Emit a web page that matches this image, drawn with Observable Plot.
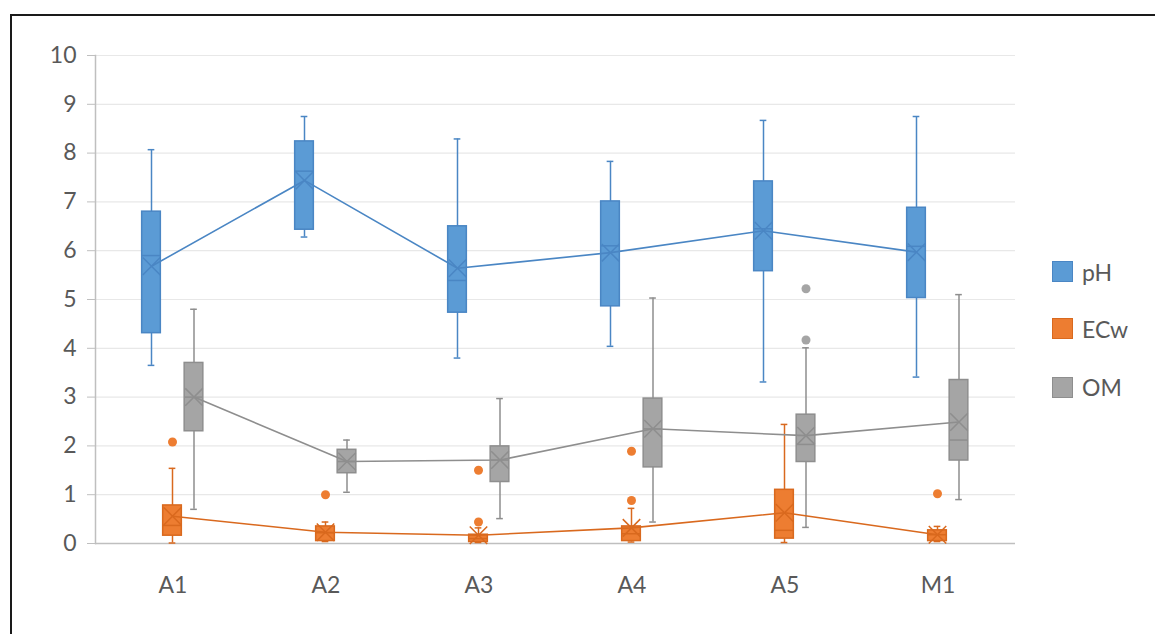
<!DOCTYPE html>
<html>
<head>
<meta charset="utf-8">
<script src="https://cdn.jsdelivr.net/npm/d3@7"></script>
<script src="https://cdn.jsdelivr.net/npm/@observablehq/plot@0.6"></script>
<style>
  html, body { margin: 0; padding: 0; background: #fff; }
  #wrap { position: relative; width: 1155px; height: 634px; overflow: hidden; font-family: Lato, "Open Sans", sans-serif; }
  #border { position: absolute; left: 10px; top: 14px; width: 1200px; height: 700px; border-left: 2px solid #1a1a1a; border-top: 2px solid #1a1a1a; pointer-events: none; }
  #chart { position: absolute; left: 0; top: 0; }
  #legend { position: absolute; left: 1052px; top: 0; }
  .item { position: absolute; left: 0; display: flex; align-items: center; white-space: nowrap; }
  .sw { width: 19px; height: 19px; border: 1px solid; margin-right: 9px; }
  .lab { font-size: 23px; color: #595959; }
</style>
</head>
<body>
<div id="wrap">
  <div id="chart"></div>
  <div id="legend"></div>
  <div id="border"></div>
</div>
<script>
// ---- data ----
const categories = ["A1", "A2", "A3", "A4", "A5", "M1"];
const seriesNames = ["pH", "ECw", "OM"];
const yTicks = [0, 1, 2, 3, 4, 5, 6, 7, 8, 9, 10];

const phLow  = [3.65, 6.28, 3.80, 4.04, 3.31, 3.41];
const phQ1   = [4.31, 6.43, 4.73, 4.86, 5.58, 5.03];
const phMed  = [5.90, 7.63, 5.39, 6.10, 6.45, 6.09];
const phQ3   = [6.80, 8.24, 6.50, 7.01, 7.42, 6.88];
const phHigh = [8.07, 8.75, 8.29, 7.83, 8.67, 8.75];
const phMean = [5.68, 7.44, 5.64, 5.96, 6.41, 5.97];

const ecLow  = [0.01, 0.04, 0.02, 0.03, 0.02, 0.04];
const ecQ1   = [0.16, 0.05, 0.03, 0.05, 0.10, 0.05];
const ecMed  = [0.37, 0.22, 0.10, 0.20, 0.27, 0.18];
const ecQ3   = [0.78, 0.35, 0.18, 0.35, 1.10, 0.27];
const ecHigh = [1.54, 0.44, 0.32, 0.72, 2.44, 0.35];
const ecMean = [0.56, 0.23, 0.17, 0.32, 0.63, 0.18];

const omLow  = [0.70, 1.05, 0.51, 0.44, 0.33, 0.90];
const omQ1   = [2.30, 1.44, 1.26, 1.56, 1.67, 1.70];
const omMed  = [3.00, 1.68, 1.71, 2.35, 2.03, 2.12];
const omQ3   = [3.70, 1.92, 1.99, 2.97, 2.64, 3.35];
const omHigh = [4.80, 2.12, 2.97, 5.03, 4.01, 5.10];
const omMean = [3.00, 1.68, 1.71, 2.35, 2.21, 2.49];

const phOutCat = [];
const phOutVal = [];
const ecOutCat = ["A1", "A2", "A3", "A3", "A4", "A4", "M1"];
const ecOutVal = [2.08, 1.00, 1.50, 0.44, 1.89, 0.88, 1.02];
const omOutCat = ["A5", "A5"];
const omOutVal = [5.22, 4.17];

// ---- styling ----
const fills   = ["#5B9BD5", "#ED7D31", "#A5A5A5"];
const strokes = ["#4A86C4", "#D9691E", "#8E8E8E"];
const offsets = [-21.5, -0.5, 21];

const W = 1155, H = 634, mL = 95, mR = 140, mT = 55, mB = 91;
const band = (W - mL - mR) / categories.length;
const boxW = 19, capW = 7, medW = 19;
const boxInset = (band - boxW) / 2, capInset = (band - capW) / 2, medInset = (band - medW) / 2;

const stats = [
  [phLow, phQ1, phMed, phQ3, phHigh, phMean, phOutCat, phOutVal],
  [ecLow, ecQ1, ecMed, ecQ3, ecHigh, ecMean, ecOutCat, ecOutVal],
  [omLow, omQ1, omMed, omQ3, omHigh, omMean, omOutCat, omOutVal]
];

const seriesMarks = [];
stats.forEach(([lo, q1, md, q3, hi, mn, oc, ov], s) => {
  const rows = categories.map((c, i) => ({cat: c, lo: lo[i], q1: q1[i], md: md[i], q3: q3[i], hi: hi[i], mn: mn[i]}));
  const outs = oc.map((c, i) => ({cat: c, v: ov[i]}));
  const dx = offsets[s], fill = fills[s], stroke = strokes[s];
  seriesMarks.push(
    Plot.ruleX(rows, {x: "cat", y1: "lo", y2: "hi", stroke, strokeWidth: 1.5, dx}),
    Plot.tickY(rows, {x: "cat", y: "lo", stroke, strokeWidth: 1.5, dx, insetLeft: capInset, insetRight: capInset}),
    Plot.tickY(rows, {x: "cat", y: "hi", stroke, strokeWidth: 1.5, dx, insetLeft: capInset, insetRight: capInset}),
    Plot.barY(rows, {x: "cat", y1: "q1", y2: "q3", fill, stroke, strokeWidth: 1.5, dx, insetLeft: boxInset, insetRight: boxInset}),
    Plot.tickY(rows, {x: "cat", y: "md", stroke, strokeWidth: 1.5, dx, insetLeft: medInset, insetRight: medInset}),
    Plot.dot(outs, {x: "cat", y: "v", fill, r: 4.5, dx})
  );
});
stats.forEach(([lo, q1, md, q3, hi, mn], s) => {
  const rows = categories.map((c, i) => ({cat: c, mn: mn[i]}));
  const dx = offsets[s], stroke = strokes[s];
  seriesMarks.push(
    Plot.line(rows, {x: "cat", y: "mn", stroke, strokeWidth: 1.6, dx}),
    Plot.dot(rows, {x: "cat", y: "mn", symbol: "times", r: 8, stroke, strokeWidth: 1.5, dx})
  );
});

const chart = Plot.plot({
  width: W, height: H,
  marginLeft: mL, marginRight: mR, marginTop: mT, marginBottom: mB,
  style: {fontFamily: "Lato, 'Open Sans', sans-serif", background: "transparent", overflow: "visible"},
  x: {domain: categories, padding: 0, axis: null, label: null},
  y: {domain: [0, 10], axis: null, label: null},
  marks: [
    Plot.gridY(yTicks, {stroke: "#e8e8e8", strokeOpacity: 1, strokeWidth: 1.2}),
    Plot.axisY(yTicks, {tickSize: 8, tickPadding: 11, stroke: "#bfbfbf", fill: "#595959", fontSize: 23, tickFormat: d => d, label: null}),
    Plot.axisX({tickSize: 0, tickPadding: 33, fill: "#595959", fontSize: 23, label: null}),
    Plot.frame({anchor: "left", stroke: "#bfbfbf", strokeWidth: 1.5}),
    Plot.ruleY([0], {stroke: "#bfbfbf", strokeWidth: 1.5}),
    ...seriesMarks
  ]
});
document.getElementById("chart").appendChild(chart);

// legend
const legendY = [271.5, 328.5, 387];
const leg = document.getElementById("legend");
seriesNames.forEach((n, i) => {
  const it = document.createElement("div");
  it.className = "item";
  it.style.top = (legendY[i] - 14) + "px";
  it.style.height = "28px";
  it.innerHTML = `<div class="sw" style="background:${fills[i]};border-color:${strokes[i]}"></div><span class="lab">${n}</span>`;
  leg.appendChild(it);
});
</script>
</body>
</html>
